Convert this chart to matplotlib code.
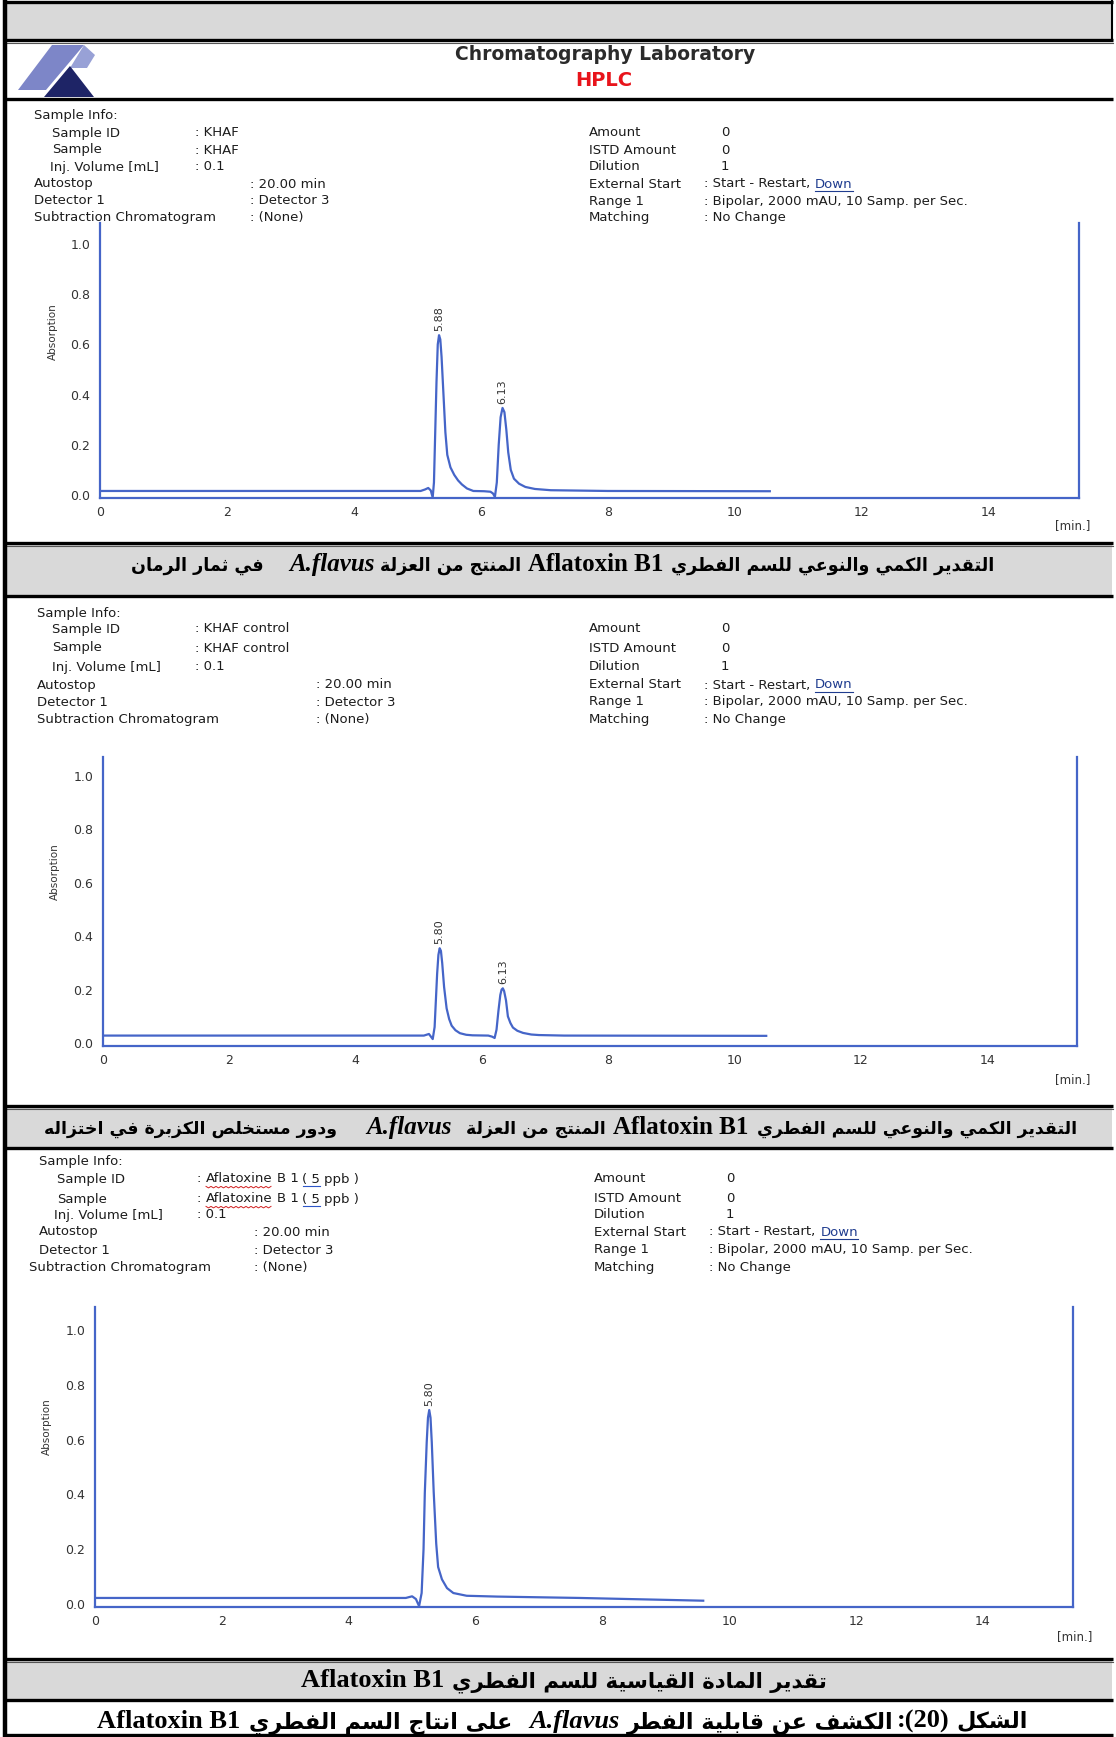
import matplotlib
matplotlib.use("Agg")
import matplotlib.pyplot as plt
from matplotlib.patches import Rectangle, Polygon

W, H = 1116, 1737

# ---------------- data ----------------
x_ticks = [0, 2, 4, 6, 8, 10, 12, 14]
y_ticks = [0.0, 0.2, 0.4, 0.6, 0.8, 1.0]

# panel 1 : KHAF
p1_time = [0.0, 5.05, 5.12, 5.17, 5.21, 5.24, 5.26, 5.28, 5.30, 5.32, 5.34, 5.36, 5.38,
           5.41, 5.44, 5.47, 5.52, 5.58, 5.64, 5.70, 5.78, 5.88, 6.05, 6.15, 6.19, 6.22,
           6.25, 6.28, 6.31, 6.34, 6.37, 6.40, 6.43, 6.47, 6.52, 6.60, 6.70, 6.85, 7.10,
           8.00, 10.55]
p1_abs = [0.016, 0.016, 0.022, 0.028, 0.018, -0.010, 0.05, 0.25, 0.45, 0.60, 0.637, 0.62,
          0.55, 0.40, 0.25, 0.16, 0.11, 0.08, 0.058, 0.042, 0.026, 0.016, 0.015, 0.013,
          0.006, -0.008, 0.05, 0.20, 0.31, 0.347, 0.33, 0.26, 0.17, 0.10, 0.065, 0.045,
          0.032, 0.024, 0.019, 0.016, 0.015]
p1_peak_time = [5.34, 6.34]
p1_peak_abs = [0.637, 0.347]
p1_peak_labels = ["5.88", "6.13"]

# panel 2 : KHAF control
p2_time = [0.0, 5.08, 5.16, 5.22, 5.25, 5.27, 5.29, 5.31, 5.33, 5.35, 5.37, 5.40, 5.44,
           5.48, 5.52, 5.58, 5.65, 5.75, 5.85, 6.10, 6.16, 6.20, 6.23, 6.26, 6.29, 6.31,
           6.33, 6.35, 6.38, 6.41, 6.45, 6.49, 6.56, 6.65, 6.78, 6.90, 7.30, 10.50]
p2_abs = [0.028, 0.028, 0.034, 0.015, 0.06, 0.16, 0.26, 0.33, 0.355, 0.345, 0.30, 0.21,
          0.13, 0.09, 0.065, 0.048, 0.037, 0.031, 0.029, 0.028, 0.024, 0.019, 0.05, 0.12,
          0.18, 0.20, 0.205, 0.195, 0.16, 0.10, 0.075, 0.058, 0.046, 0.038, 0.032, 0.030,
          0.028, 0.027]
p2_peak_time = [5.33, 6.33]
p2_peak_abs = [0.355, 0.205]
p2_peak_labels = ["5.80", "6.13"]

# panel 3 : Aflatoxine B1 standard
p3_time = [0.0, 4.90, 5.00, 5.06, 5.11, 5.15, 5.18, 5.20, 5.23, 5.25, 5.27, 5.29, 5.31,
           5.34, 5.38, 5.41, 5.47, 5.55, 5.65, 5.86, 6.34, 7.65, 9.59]
p3_abs = [0.022, 0.022, 0.028, 0.018, -0.008, 0.04, 0.20, 0.405, 0.59, 0.68, 0.708, 0.68,
          0.59, 0.41, 0.22, 0.135, 0.09, 0.058, 0.040, 0.030, 0.027, 0.022, 0.012]
p3_peak_time = [5.27]
p3_peak_abs = [0.708]
p3_peak_labels = ["5.80"]

info_left_labels = ["Sample Info:", "Sample ID", "Sample", "Inj. Volume [mL]",
                    "Autostop", "Detector 1", "Subtraction Chromatogram"]
info_right_labels = ["Amount", "ISTD Amount", "Dilution", "External Start", "Range 1", "Matching"]
info_right_values = ["0", "0", "1", ": Start - Restart,", ": Bipolar, 2000 mAU, 10 Samp. per Sec.",
                     ": No Change"]
p1_left_values = ["", ": KHAF", ": KHAF", ": 0.1", ": 20.00 min", ": Detector 3", ": (None)"]
p2_left_values = ["", ": KHAF control", ": KHAF control", ": 0.1", ": 20.00 min",
                  ": Detector 3", ": (None)"]
p3_left_values = ["", ":", ":", ": 0.1", ": 20.00 min", ": Detector 3", ": (None)"]
p3_sample_runs = ["Aflatoxine", "B 1", "( 5", "ppb )"]

header_title = "Chromatography Laboratory"
header_sub = "HPLC"

AR_A = "التقدير الكمي والنوعي للسم الفطري"
AR_B = "المنتج من العزلة"
AR_C = "في ثمار الرمان"
AR_D = "ودور مستخلص الكزبرة في اختزاله"
AR_E = "تقدير المادة القياسية للسم الفطري"
AR_F = "الشكل"
AR_G = "الكشف عن قابلية الفطر"
AR_H = "على انتاج السم الفطري"
LAT_TOXIN = "Aflatoxin B1"
LAT_SPECIES = "A.flavus"

# ---------------- arabic shaping (presentation forms) ----------------
_RJ = {'\u0627': 0xFE8D, '\u0623': 0xFE83, '\u0625': 0xFE87, '\u0622': 0xFE81,
       '\u0629': 0xFE93, '\u062F': 0xFEA9, '\u0630': 0xFEAB, '\u0631': 0xFEAD,
       '\u0632': 0xFEAF, '\u0648': 0xFEED, '\u0649': 0xFEEF}
_DJ = {'\u0628': 0xFE8F, '\u062A': 0xFE95, '\u062B': 0xFE99, '\u062C': 0xFE9D,
       '\u062D': 0xFEA1, '\u062E': 0xFEA5, '\u0633': 0xFEB1, '\u0634': 0xFEB5,
       '\u0635': 0xFEB9, '\u0636': 0xFEBD, '\u0637': 0xFEC1, '\u0638': 0xFEC5,
       '\u0639': 0xFEC9, '\u063A': 0xFECD, '\u0641': 0xFED1, '\u0642': 0xFED5,
       '\u0643': 0xFED9, '\u0644': 0xFEDD, '\u0645': 0xFEE1, '\u0646': 0xFEE5,
       '\u0647': 0xFEE9, '\u064A': 0xFEF1}
_LAMALEF = {'\u0627': 0xFEFB, '\u0623': 0xFEF7, '\u0625': 0xFEF9, '\u0622': 0xFEF5}


def _is_ar(c):
    return c in _RJ or c in _DJ


def shape_arabic(s):
    out = []
    i = 0
    n = len(s)
    while i < n:
        c = s[i]
        prev_join = i > 0 and s[i - 1] in _DJ
        if c == '\u0644' and i + 1 < n and s[i + 1] in _LAMALEF:
            base = _LAMALEF[s[i + 1]]
            out.append(chr(base + (1 if prev_join else 0)))
            i += 2
            continue
        if c in _DJ:
            nxt = i + 1 < n and _is_ar(s[i + 1])
            base = _DJ[c]
            if prev_join and nxt:
                out.append(chr(base + 3))
            elif prev_join:
                out.append(chr(base + 1))
            elif nxt:
                out.append(chr(base + 2))
            else:
                out.append(chr(base))
        elif c in _RJ:
            out.append(chr(_RJ[c] + (1 if prev_join else 0)))
        else:
            out.append(c)
        i += 1
    return "".join(out)[::-1]


# ---------------- figure ----------------
plt.rcParams['font.family'] = ['DejaVu Sans']
fig = plt.figure(figsize=(W / 100, H / 100), dpi=100)
bg = fig.add_axes([0, 0, 1, 1])
bg.set_xlim(0, W)
bg.set_ylim(H, 0)
bg.axis('off')
R = fig.canvas.get_renderer()

GRAY = '#d9d9d9'
BLUE = '#4565c8'
TXT = '#1c1c1c'
INFO_FS = 9.5


def px_w(t):
    return t.get_window_extent(renderer=R).width


def bottom_of(t):
    bb = t.get_window_extent(renderer=R).transformed(bg.transData.inverted())
    return max(bb.y0, bb.y1), bb.x0, bb.x1


# gray bands
for (y0, y1) in [(3, 39), (544, 595), (1107, 1147), (1660, 1699)]:
    bg.add_patch(Rectangle((5, y0), W - 9, y1 - y0, facecolor=GRAY, edgecolor='none', zorder=0))

# horizontal rules
for y in [2, 40, 99, 543, 596, 1106, 1148, 1659, 1700, 1735]:
    bg.plot([4, W - 3], [y, y], color='black', lw=2.4, solid_capstyle='butt', zorder=1)
for y in [43, 546, 1109, 1662]:
    bg.plot([4, W - 3], [y, y], color='#555555', lw=0.8, zorder=1)
# vertical borders
bg.plot([5, 5], [0, H], color='black', lw=3.2, zorder=1)
bg.plot([W - 4, W - 4], [0, 40], color='black', lw=1.5, zorder=1)

# logo
bg.add_patch(Polygon([(52, 45), (84, 45), (46, 90), (18, 90)], closed=True,
                     facecolor='#7d86c8', edgecolor='none', zorder=2))
bg.add_patch(Polygon([(84, 45), (95, 55), (87, 68), (70, 68)], closed=True,
                     facecolor='#98a1d6', edgecolor='none', zorder=2))
bg.add_patch(Polygon([(44, 97), (94, 97), (70, 66)], closed=True,
                     facecolor='#1e2466', edgecolor='none', zorder=2))

# header texts
bg.text(605, 55, header_title, ha='center', va='center', fontsize=13.5,
        fontweight='bold', color='#2b2b2b')
bg.text(604, 81, header_sub, ha='center', va='center', fontsize=14,
        fontweight='bold', color='#e8141b')


# ---------------- info blocks ----------------
def info_block(rows_y, label_x, val_x, left_values, rx, rnum_x, rcol_x, fs=INFO_FS):
    for lab, lx, y in zip(info_left_labels, label_x, rows_y):
        bg.text(lx, y, lab, ha='left', va='center', fontsize=fs, color=TXT)
    for v, vx, y in zip(left_values, val_x, rows_y):
        if v:
            bg.text(vx, y, v, ha='left', va='center', fontsize=fs, color=TXT)
    for i, (lab, val) in enumerate(zip(info_right_labels, info_right_values)):
        y = rows_y[i + 1]
        bg.text(rx, y, lab, ha='left', va='center', fontsize=fs, color=TXT)
        xx = rnum_x if i < 3 else rcol_x
        t = bg.text(xx, y, val, ha='left', va='center', fontsize=fs, color=TXT)
        if i == 3:
            x_end = xx + px_w(t) + 5
            t2 = bg.text(x_end, y, "Down", ha='left', va='center', fontsize=fs, color='#1f3c8f')
            yb, x0, x1 = bottom_of(t2)
            bg.plot([x0, x1], [yb + 1, yb + 1], color='#1f3c8f', lw=0.8)


info_block([116, 133, 150, 167, 184, 201, 217], [34, 52, 52, 50, 34, 34, 34],
           [0, 195, 195, 195, 250, 250, 250], p1_left_values, 589, 721, 704)
info_block([613, 629, 648, 667, 685, 702, 720], [37, 52, 52, 52, 37, 37, 37],
           [0, 195, 195, 195, 316, 316, 316], p2_left_values, 589, 721, 704)
info_block([1162, 1179, 1199, 1215, 1232, 1250, 1267], [39, 57, 57, 54, 39, 39, 29],
           [0, 197, 197, 197, 254, 254, 254], p3_left_values, 594, 726, 709)

# panel 3 sample id / sample runs with underlines
for y in [1179, 1199]:
    x = 197 + 9
    for k, run in enumerate(p3_sample_runs):
        t = bg.text(x, y, run, ha='left', va='center', fontsize=INFO_FS, color=TXT)
        yb, x0, x1 = bottom_of(t)
        if k == 0:
            xs = [x0 + j * 2.5 for j in range(int((x1 - x0) / 2.5) + 1)]
            ys = [yb + 1.5 + (0.9 if j % 2 else -0.6) for j in range(len(xs))]
            bg.plot(xs, ys, color='#d02020', lw=0.7)
        if k == 2:
            bg.plot([x0, x1], [yb + 1, yb + 1], color='#2d55c8', lw=0.8)
        x = x1 + 4


# ---------------- chromatogram panels ----------------
def panel(x0, x1, ytop, ybot, ylim, times, vals, pk_t, pk_a, pk_lab, ylab_xy, minlab_xy):
    ax = fig.add_axes([x0 / W, 1 - ybot / H, (x1 - x0) / W, (ybot - ytop) / H])
    ax.set_facecolor('none')
    ax.plot(times, vals, color=BLUE, lw=1.6, solid_joinstyle='round', zorder=3)
    ax.set_xlim(0, 15.42)
    ax.set_ylim(*ylim)
    ax.set_xticks(x_ticks)
    ax.set_xticklabels([str(v) for v in x_ticks])
    ax.set_yticks(y_ticks)
    ax.set_yticklabels([f"{v:.1f}" for v in y_ticks])
    ax.tick_params(axis='x', length=0, pad=6, labelsize=9, labelcolor='#333333')
    ax.tick_params(axis='y', length=0, pad=7, labelsize=9, labelcolor='#333333')
    for s in ['left', 'bottom', 'right']:
        ax.spines[s].set_color(BLUE)
        ax.spines[s].set_linewidth(1.6)
    ax.spines['top'].set_visible(False)
    for t, a, lab in zip(pk_t, pk_a, pk_lab):
        ax.annotate(lab, (t, a), xytext=(0, 3), textcoords='offset points', rotation=90,
                    ha='center', va='bottom', fontsize=8, color='#333333')
    bg.text(ylab_xy[0], ylab_xy[1], "Absorption", rotation=90, ha='center', va='center',
            fontsize=7.5, color='#333333')
    bg.text(minlab_xy[0], minlab_xy[1], "[min.]", ha='center', va='center',
            fontsize=8.5, color='#333333')
    return ax


panel(100, 1079, 223, 498, (-0.012, 1.084), p1_time, p1_abs, p1_peak_time, p1_peak_abs,
      p1_peak_labels, (53, 332), (1073, 526))
panel(103, 1077, 757, 1046, (-0.011, 1.071), p2_time, p2_abs, p2_peak_time, p2_peak_abs,
      p2_peak_labels, (55, 872), (1073, 1080))
panel(95, 1073, 1307, 1607, (-0.011, 1.084), p3_time, p3_abs, p3_peak_time, p3_peak_abs,
      p3_peak_labels, (47, 1427), (1075, 1637))


# ---------------- captions ----------------
def make_seg(kind, txt, size, x, ybase):
    kw = dict(fontsize=size, va='baseline', ha='left', color='black')
    if kind == 'ar':
        return bg.text(x, ybase, shape_arabic(txt), family=['DejaVu Sans'],
                       fontweight='bold', **kw)
    if kind == 'it':
        return bg.text(x, ybase, txt, family=['Liberation Serif'], fontweight='bold',
                       fontstyle='italic', **kw)
    return bg.text(x, ybase, txt, family=['Liberation Serif'], fontweight='bold', **kw)


def caption(segs, xc, ybase, target_w, lat_size=18.0):
    lat_w = 0.0
    ar_w = 0.0
    gaps = sum(g for _, _, g in segs)
    for kind, txt, g in segs:
        t = make_seg(kind, txt, 10.0 if kind == 'ar' else lat_size, 0, ybase)
        w = px_w(t)
        t.remove()
        if kind == 'ar':
            ar_w += w
        else:
            lat_w += w
    ar_size = min(10.0 * (target_w - lat_w - gaps) / ar_w, 22.0)
    total = lat_w + gaps + ar_w * ar_size / 10.0
    x = xc - total / 2
    for kind, txt, g in segs:
        t = make_seg(kind, txt, ar_size if kind == 'ar' else lat_size, x, ybase)
        x += px_w(t) + g


caption([('ar', AR_C, 26), ('it', LAT_SPECIES, 5), ('ar', AR_B, 7), ('lat', LAT_TOXIN, 7),
         ('ar', AR_A, 0)], 563, 571, 864)
caption([('ar', AR_D, 29), ('it', LAT_SPECIES, 15), ('ar', AR_B, 7), ('lat', LAT_TOXIN, 8),
         ('ar', AR_A, 0)], 562, 1134, 1036)
caption([('lat', LAT_TOXIN, 8), ('ar', AR_E, 0)], 565, 1687, 528, lat_size=19)
caption([('lat', LAT_TOXIN, 8), ('ar', AR_H, 17), ('it', LAT_SPECIES, 8), ('ar', AR_G, 3),
         ('lat', ":(20)", 7), ('ar', AR_F, 0)], 564, 1728, 933, lat_size=19)

fig.savefig("out.png", dpi=100)
